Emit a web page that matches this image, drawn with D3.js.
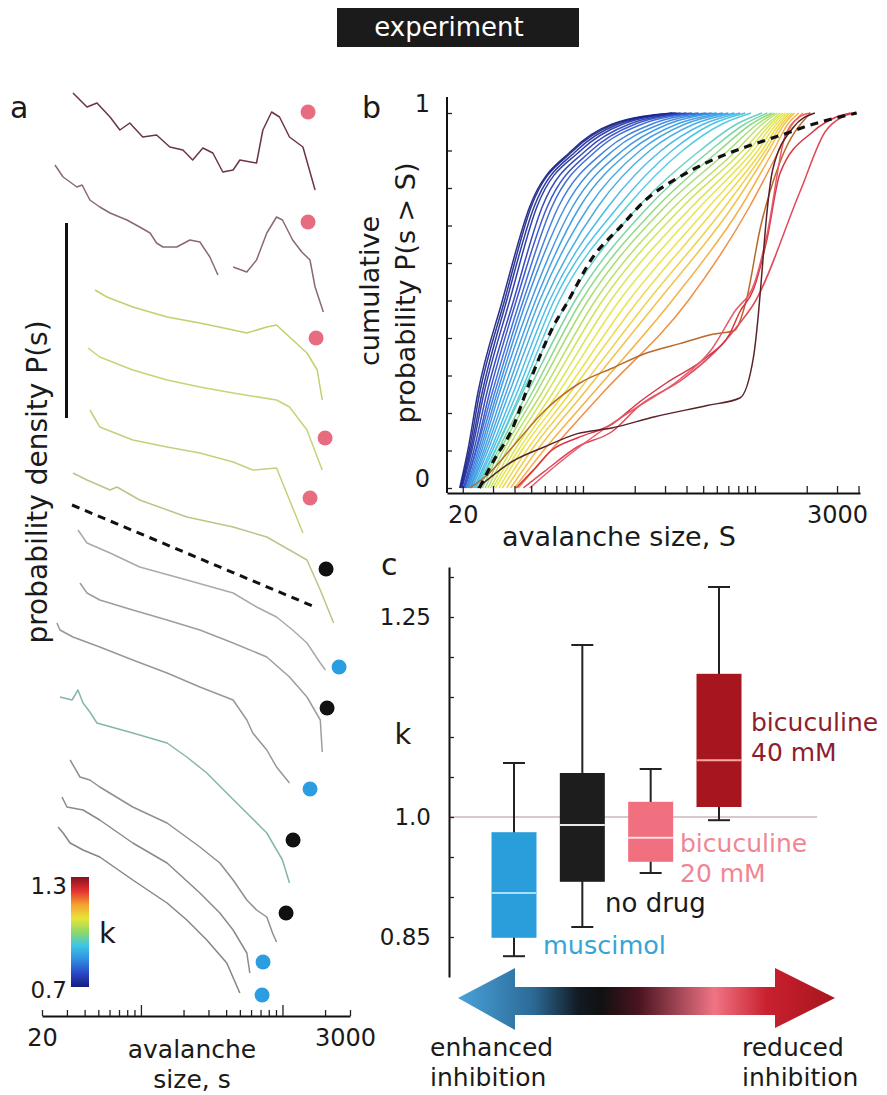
<!DOCTYPE html>
<html><head><meta charset="utf-8">
<script src="https://cdn.jsdelivr.net/npm/d3@7"></script>
<style>
body{margin:0;background:#fff;}
svg{display:block;}
text{font-family:"DejaVu Sans",sans-serif;fill:#1a1a1a;}
</style></head><body>
<svg id="fig" width="887" height="1095"></svg>
<script>
// ---------- panel a: stacked size distributions, [size s, stacked log-density] ----------
const pdf01 = [[33.1,9.17],[41.6,9.03],[48.9,9.07],[60.5,8.93],[71,8.80],[83.4,8.87],[103,8.73],[129,8.75],[160,8.63],[198,8.60],[232,8.50],[274,8.62],[322,8.57],[379,8.38],[448,8.40],[500,8.50],[656,8.47],[727,8.80],[838,8.98],[953,8.93],[1121,8.73],[1395,8.63],[1700,8.20]];
const pdf02 = [[24.7,8.45],[28.2,8.33],[35.3,8.23],[38.4,8.25],[43.6,8.10],[51.2,8.03],[60.5,7.97],[79.6,7.90],[98,7.83],[116,7.77],[129,7.67],[143,7.63],[179,7.63],[222,7.70],[261,7.68],[307,7.53],[350,7.35],[390,null],[448,7.43],[560,7.38],[656,7.50],[775,7.77],[908,7.93],[1000,7.90],[1180,7.70],[1370,7.58],[1565,7.50],[1700,7.23],[1945,6.98]];
const pdf03 = [[47.4,7.20],[57.5,7.13],[87.6,7.03],[153,6.93],[261,6.87],[448,6.80],[560,6.77],[775,6.83],[908,6.85],[1121,6.73],[1490,6.57],[1760,6.40],[1910,6.10]];
const pdf04 = [[42.3,6.62],[51.2,6.53],[87.6,6.40],[153,6.30],[261,6.23],[448,6.17],[908,6.10],[1121,6.03],[1490,5.80],[1760,5.53],[1910,5.40]];
const pdf05 = [[43.6,6.00],[51.2,5.83],[87.6,5.70],[153,5.63],[261,5.57],[448,5.48],[617,5.40],[908,5.42],[1121,5.10],[1395,4.77]];
const pdf06 = [[33.1,5.37],[41.6,5.30],[60.5,5.20],[67.7,5.23],[98,5.10],[211,4.93],[448,4.83],[775,4.73],[1121,4.60],[1490,4.50],[1850,4.20],[2300,3.87]];
const pdf07 = [[35.9,4.80],[41.6,4.67],[60.5,4.57],[98,4.43],[211,4.30],[448,4.17],[656,4.03],[908,3.93],[1180,3.80],[1490,3.67],[1850,3.47],[2010,3.40]];
const pdf08 = [[37.1,4.27],[41.6,4.17],[51.2,4.10],[87.6,4.00],[153,3.90],[261,3.80],[448,3.67],[775,3.53],[1121,3.33],[1490,3.13],[1850,2.90],[1910,2.58]];
const pdf09 = [[25.5,3.87],[26.8,3.80],[33.1,3.73],[51.2,3.63],[87.6,3.50],[153,3.37],[261,3.23],[448,3.10],[560,2.90],[617,2.77],[775,2.60],[908,2.43],[1121,2.27]];
const pdf10 = [[26.8,3.13],[32.6,3.10],[35.9,3.20],[39,3.07],[43.6,2.98],[48.9,2.87],[87.6,2.77],[153,2.67],[211,2.53],[292,2.37],[404,2.17],[560,1.97],[775,1.77],[1000,1.50],[1121,1.27]];
const pdf11 = [[31.6,2.50],[37.1,2.33],[43.6,2.30],[51.2,2.23],[87.6,2.03],[153,1.87],[261,1.63],[361,1.47],[448,1.30],[560,1.10],[656,1.00],[775,0.93],[851,0.77],[908,0.68]];
const pdf12 = [[27.7,2.13],[30,2.03],[39,2.00],[51.2,1.90],[87.6,1.67],[153,1.47],[261,1.17],[361,0.97],[448,0.80],[560,0.57],[588,0.37]];
const pdf13 = [[26,1.83],[28.2,1.77],[31.6,1.67],[39,1.60],[51.2,1.53],[87.6,1.30],[153,1.07],[211,0.90],[292,0.70],[404,0.47],[500,0.17]];
const pdfCurves = [pdf01,pdf02,pdf03,pdf04,pdf05,pdf06,pdf07,pdf08,pdf09,pdf10,pdf11,pdf12,pdf13];
const pdfPowerLaw = [[32.6,5.05],[1700,4.03]];
const pdfDots = [[1516,8.98],[1516,7.88],[1728,6.72],[2000,5.72],[1566,5.12],[2032,4.41],[2512,3.43],[2066,3.02],[1566,2.21],[1188,1.70],[1060,0.97],[729,0.48],[718,0.15]];
const pdfDotGroup = ["bic","bic","bic","bic","bic","none","mus","none","mus","none","none","mus","mus"];
const sizeTicksA = [20,30,40,50,60,70,80,90,100,200,300,400,500,600,700,800,900,1000,2000,3000];

// ---------- panel b: cumulative distributions ----------
const cdfLevels = [0, 0.1, 0.25, 0.5, 0.75, 0.9, 0.97, 1];
const cdfK = [0.70,0.71,0.72,0.73,0.75,0.77,
              0.80,0.82,0.84,0.85,0.86,0.87,0.88,0.90,0.91,0.93,
              0.95,0.97,0.99,1.01,1.03,
              1.05,1.06,1.07,1.08,1.09,1.10,1.12,
              1.14,1.17];
const cdfSizes = [
  [19.2,21.4,24.4,34,49,86,147,330],
  [19.4,21.8,25.0,35,50,88,152,340],
  [19.6,22.2,25.8,36,52,92,160,350],
  [19.8,22.6,26.5,37.5,54,97,170,370],
  [20.2,23.2,27.5,39.5,58,104,185,400],
  [20.5,23.8,28.5,41,62,112,200,430],
  [20.6,24.0,29.5,43,66,120,220,470],
  [21.0,24.6,30.5,45,72,135,250,520],
  [21.3,25.2,31.5,47,79,150,280,560],
  [21.6,25.8,32.5,50,87,170,310,600],
  [22.0,26.5,34,53,96,190,350,650],
  [22.3,27.2,35.5,56,108,215,390,700],
  [22.7,28.0,37,60,122,245,440,760],
  [23.2,29,39,64,140,285,500,820],
  [23.6,29.8,41,68,160,330,560,880],
  [24.0,30.8,43,73,180,380,640,950],
  [24.5,31,44,82,210,480,780,1100],
  [25,32,47,90,240,550,870,1180],
  [26,33,50,98,270,620,950,1250],
  [27,34.5,53,107,300,700,1030,1300],
  [28,36,57,118,340,780,1100,1350],
  [29,38,61,130,380,850,1180,1400],
  [30,40,66,145,430,920,1230,1450],
  [31,42,71,163,480,980,1280,1500],
  [32.5,44,77,185,540,1040,1330,1550],
  [34,47,83,210,600,1100,1380,1600],
  [36,50,91,240,670,1150,1430,1650],
  [38,54,100,275,740,1200,1480,1700],
  [40,59,113,330,830,1280,1550,1800],
  [42,65,128,410,930,1380,1650,1900]
];
const cdfBent = [[22,0],[28.6,0.04],[39,0.11],[61,0.21],[96,0.28],[149,0.32],[234,0.36],[366,0.385],[567,0.41],[760,0.42],[890,0.5],[1070,0.69],[1400,0.87],[2100,1]];
const cdfKinked = [[24.4,0],[38.6,0.07],[60,0.11],[93,0.145],[147,0.16],[262,0.19],[527,0.22],[817,0.24],[981,0.35],[1050,0.47],[1100,0.58],[1160,0.71],[1270,0.85],[1660,0.96],[2230,1]];
const cdfRedA = [[40.9,0],[50.8,0.045],[65.6,0.1],[93.3,0.134],[147,0.17],[214,0.23],[305,0.28],[527,0.35],[711,0.41],[817,0.47],[981,0.53],[1170,0.66],[1400,0.84],[2170,0.95],[3000,0.99],[3600,1]];
const cdfRedB = [[45,0],[60,0.045],[93,0.11],[147,0.15],[214,0.22],[380,0.29],[650,0.385],[817,0.44],[981,0.49],[1826,0.79],[2560,0.95],[3230,0.99],[3900,1]];
const cdfRedC = [[49,0],[74,0.07],[126,0.15],[214,0.22],[366,0.29],[560,0.37],[760,0.47],[1000,0.55],[1180,0.68],[1500,0.94],[1826,0.99],[2100,1]];
const cdfReference = [[25,0],[30,0.07],[39,0.16],[47,0.26],[56,0.35],[67,0.43],[80,0.49],[114,0.615],[164,0.695],[234,0.77],[366,0.83],[567,0.875],[890,0.91],[1400,0.94],[2170,0.97],[3900,1]];
const cdfYTicks = [0,0.1,0.2,0.3,0.4,0.5,0.6,0.7,0.8,0.9,1];

// ---------- panel c: exponent k per condition ----------
const conditions = ["muscimol","no drug","bicuculine 20 mM","bicuculine 40 mM"];
const kWhiskerLow  = [0.826, 0.8625, 0.930, 0.996];
const kQ1          = [0.849, 0.919, 0.944, 1.0125];
const kMedian      = [0.905, 0.990, 0.974, 1.071];
const kQ3          = [0.981, 1.055, 1.019, 1.179];
const kWhiskerHigh = [1.0675, 1.215, 1.060, 1.2875];
const kTicks = [0.85,0.90,0.95,1.00,1.05,1.10,1.15,1.20,1.25,1.30];
const kTickLabels = {"0.85":"0.85","1":"1.0","1.25":"1.25"};

// ---------- shared colour map for k ----------
const jetStops = ["#141c80","#2a48c8","#2f8ee0","#3cc6e6","#8fd868","#e8e438","#f5a030","#e33030","#8a1020"];
const jet = d3.scaleLinear().domain(d3.range(9).map(i => 0.7 + i*0.075)).range(jetStops).clamp(true);

const svg = d3.select("#fig");
const defs = svg.append("defs");

// two-line label drawn as one text element
function stacked(g, lines, x, y, gap, size, anchor, transform) {
  const t = g.append("text").attr("font-size", size).attr("text-anchor", anchor || "start");
  if (transform) t.attr("transform", transform);
  lines.forEach((s,i) => t.append("tspan").attr("x", x).attr("y", y + i*gap).text(s));
  return t;
}

// ---------- title ----------
svg.append("rect").attr("x",337).attr("y",8).attr("width",242).attr("height",39).attr("fill","#1b1b1b");
svg.append("text").attr("x",449).attr("y",36).attr("text-anchor","middle").attr("font-size",26)
  .style("fill","#fff").text("experiment");

// ================= panel a =================
const xA = d3.scaleLog().domain([20,3000]).range([42,350]);
const yA = d3.scaleLinear().domain([0,9.2]).range([1010,90]);
const lineA = d3.line().defined(d => d[1] != null).x(d => xA(d[0])).y(d => yA(d[1]));
const pdfColors = ["#6d3446","#8a6a70","#c4cf6c","#c8d276","#c6cf7c","#bcc488","#a9a9a9","#9d9d9d","#979797","#84b6ae","#8f8f8f","#8a8a8a","#858585"];
const gA = svg.append("g");
pdfCurves.forEach((c,i) => {
  gA.append("path").attr("d", lineA(c)).attr("fill","none")
    .attr("stroke", pdfColors[i]).attr("stroke-width",1.5).attr("stroke-linejoin","round");
});
gA.append("path").attr("d", lineA(pdfPowerLaw)).attr("fill","none").attr("stroke","#111")
  .attr("stroke-width",3).attr("stroke-dasharray","8,6");
const dotColor = {bic:"#e86c80", none:"#111111", mus:"#2a9ee0"};
gA.selectAll("circle.dot").data(pdfDots).join("circle").attr("class","dot")
  .attr("cx", d => xA(d[0])).attr("cy", d => yA(d[1])).attr("r",7.5)
  .attr("fill", (d,i) => dotColor[pdfDotGroup[i]]);

// scale bar and axis
gA.append("line").attr("x1",66.5).attr("x2",66.5).attr("y1",223).attr("y2",418).attr("stroke","#111").attr("stroke-width",3);
const axA = gA.append("g").attr("transform","translate(0,1016)")
  .call(d3.axisBottom(xA).tickValues(sizeTicksA).tickSizeInner(-6).tickSizeOuter(0).tickPadding(13)
    .tickFormat(d => (d === 20 || d === 3000) ? d : ""));
axA.select(".domain").attr("stroke","#111").attr("stroke-width",2);
axA.selectAll(".tick line").attr("stroke","#222").attr("stroke-width",1.3)
  .attr("y2", d => (d === 100 || d === 1000) ? -11 : -6);
axA.selectAll(".tick text").attr("font-size",24).attr("font-family",null).style("fill","#1a1a1a")
  .attr("dx", d => d === 3000 ? -5 : 0);
stacked(gA, ["avalanche","size, s"], 192, 1058, 30, 25, "middle");
gA.append("text").attr("transform","translate(47,482) rotate(-90)").attr("text-anchor","middle").attr("font-size",28).text("probability density P(s)");
gA.append("text").attr("x",10).attr("y",118).attr("font-size",30).text("a");

// colour bar
const cbGrad = defs.append("linearGradient").attr("id","cbar").attr("x1",0).attr("y1",1).attr("x2",0).attr("y2",0);
jetStops.forEach((c,i) => cbGrad.append("stop").attr("offset", i/(jetStops.length-1)).attr("stop-color", c));
gA.append("rect").attr("x",71).attr("y",877).attr("width",18).attr("height",110).attr("fill","url(#cbar)");
gA.append("text").attr("x",67).attr("y",894).attr("text-anchor","end").attr("font-size",23).text("1.3");
gA.append("text").attr("x",67).attr("y",998).attr("text-anchor","end").attr("font-size",23).text("0.7");
gA.append("text").attr("x",99).attr("y",943).attr("font-size",29).text("k");

// ================= panel b =================
const xB = d3.scaleLog().domain([16.2,4080]).range([447,860]);
const yB = d3.scaleLinear().domain([0,1]).range([488,113]);
const lineB = d3.line().x(d => xB(d[0])).y(d => yB(d[1])).curve(d3.curveMonotoneX);
const gB = svg.append("g");
cdfSizes.forEach((sz,i) => {
  gB.append("path").attr("d", lineB(sz.map((s,j) => [s, cdfLevels[j]]))).attr("fill","none")
    .attr("stroke", jet(cdfK[i])).attr("stroke-width",1.5).attr("stroke-opacity",0.9);
});
[[cdfBent,"#b86a2a"],[cdfRedB,"#e0485a"],[cdfRedA,"#d83444"],[cdfRedC,"#e65a6a"],[cdfKinked,"#5a2228"]].forEach(([c,col]) => {
  gB.append("path").attr("d", lineB(c)).attr("fill","none").attr("stroke", col).attr("stroke-width",1.5);
});
gB.append("path").attr("d", lineB(cdfReference)).attr("fill","none").attr("stroke","#111")
  .attr("stroke-width",3.2).attr("stroke-dasharray","8,6");

const axBx = gB.append("g").attr("transform","translate(0,493)")
  .call(d3.axisBottom(xB).tickValues(xB.ticks().filter(t => t >= 20)).tickSizeInner(-7).tickSizeOuter(0).tickPadding(13)
    .tickFormat(d => (d === 20 || d === 3000) ? d : ""));
axBx.select(".domain").attr("stroke","#111").attr("stroke-width",2);
axBx.selectAll(".tick line").attr("stroke","#222").attr("stroke-width",1.3);
axBx.selectAll(".tick text").attr("font-size",24).attr("font-family",null).style("fill","#1a1a1a");
const axBy = gB.append("g").attr("transform","translate(447,0)")
  .call(d3.axisLeft(yB).tickValues(cdfYTicks).tickSizeInner(-5).tickSizeOuter(0).tickPadding(17)
    .tickFormat(d => (d === 0 || d === 1) ? d : ""));
axBy.select(".domain").remove();
axBy.selectAll(".tick line").attr("stroke","#222").attr("stroke-width",1.3);
axBy.selectAll(".tick text").attr("font-size",24).attr("font-family",null).attr("dy","-0.08em").style("fill","#1a1a1a");
gB.append("line").attr("x1",447).attr("x2",447).attr("y1",97).attr("y2",493).attr("stroke","#111").attr("stroke-width",2);
gB.append("text").attr("x",619).attr("y",546).attr("text-anchor","middle").attr("font-size",27).text("avalanche size, S");
gB.append("text").attr("transform","rotate(-90)").attr("text-anchor","middle").attr("font-size",27)
  .call(t => {
    t.append("tspan").attr("x",-291).attr("y",379).text("cumulative");
    t.append("tspan").attr("x",-293).attr("y",415).text("probability P(s > S)");
  });
gB.append("text").attr("x",362).attr("y",118).attr("font-size",30).text("b");

// ================= panel c =================
const xC = d3.scalePoint().domain(conditions).range([514,719]);
const yC = d3.scaleLinear().domain([0.8,1.3125]).range([977,567]);
const boxFill = ["#2a9edb","#1d1d1d","#f0707f","#a7161f"];
const medianStroke = ["#a8e0ff","#e8e8e8","#ffe0e0","#f7a8a0"];
const boxW = 45, capW = 22;
const gC = svg.append("g");
gC.append("line").attr("x1",449).attr("x2",817).attr("y1",yC(1)).attr("y2",yC(1)).attr("stroke","#c8b8b8").attr("stroke-width",1.5);
conditions.forEach((c,i) => {
  const cx = xC(c);
  gC.append("line").attr("x1",cx).attr("x2",cx).attr("y1",yC(kWhiskerLow[i])).attr("y2",yC(kWhiskerHigh[i])).attr("stroke","#222").attr("stroke-width",2);
  [kWhiskerLow[i], kWhiskerHigh[i]].forEach(v => gC.append("line").attr("x1",cx-capW/2).attr("x2",cx+capW/2)
    .attr("y1",yC(v)).attr("y2",yC(v)).attr("stroke","#222").attr("stroke-width",2));
  gC.append("rect").attr("x",cx-boxW/2).attr("width",boxW).attr("y",yC(kQ3[i])).attr("height",yC(kQ1[i])-yC(kQ3[i])).attr("fill",boxFill[i]);
  gC.append("line").attr("x1",cx-boxW/2).attr("x2",cx+boxW/2).attr("y1",yC(kMedian[i])).attr("y2",yC(kMedian[i]))
    .attr("stroke",medianStroke[i]).attr("stroke-width",2);
});
const axC = gC.append("g").attr("transform","translate(449,0)")
  .call(d3.axisLeft(yC).tickValues(kTicks).tickSizeInner(-5).tickSizeOuter(0).tickPadding(18)
    .tickFormat(d => kTickLabels[String(+d.toFixed(2))] || ""));
axC.select(".domain").attr("stroke","#111").attr("stroke-width",2);
axC.selectAll(".tick line").attr("stroke","#222").attr("stroke-width",1.3);
axC.selectAll(".tick text").attr("font-size",23).attr("font-family",null).style("fill","#1a1a1a");
gC.append("text").attr("x",403).attr("y",744).attr("text-anchor","middle").attr("font-size",29).text("k");
gC.append("text").attr("x",381).attr("y",575).attr("font-size",30).text("c");

stacked(gC, ["bicuculine","40 mM"], 751, 731, 30, 25).style("fill","#8c1e2e");
stacked(gC, ["bicuculine","20 mM"], 680, 852, 30, 25).style("fill","#f08694");
gC.append("text").attr("x",605).attr("y",912).attr("font-size",26).text("no drug");
gC.append("text").attr("x",543).attr("y",954).attr("font-size",25.5).style("fill","#37a4d8").text("muscimol");

// inhibition arrow
const arrGrad = defs.append("linearGradient").attr("id","arr").attr("gradientUnits","userSpaceOnUse")
  .attr("x1",458).attr("x2",835).attr("y1",0).attr("y2",0);
[[0,"#4aa2da"],[0.2,"#2b6a96"],[0.32,"#121a22"],[0.38,"#111"],[0.48,"#4a1420"],[0.68,"#f07484"],[0.82,"#c8202e"],[1,"#a8161e"]]
  .forEach(([o,c]) => arrGrad.append("stop").attr("offset",o).attr("stop-color",c));
gC.append("path").attr("fill","url(#arr)")
  .attr("d","M458,998 L515,968 L515,987 L775,987 L775,968 L835,998 L775,1028 L775,1015 L515,1015 L515,1030 Z");
stacked(gC, ["enhanced","inhibition"], 430, 1056, 30, 25);
stacked(gC, ["reduced","inhibition"], 742, 1056, 30, 25);
</script></body></html>
